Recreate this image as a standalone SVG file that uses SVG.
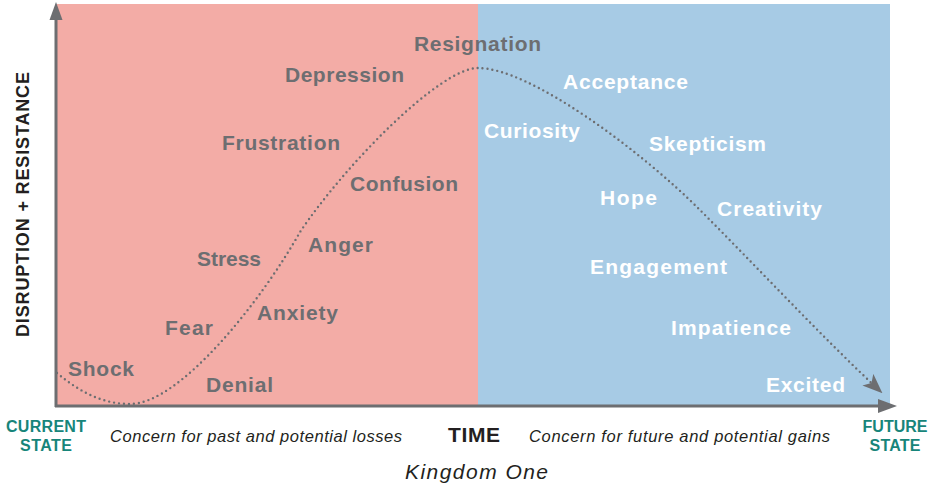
<svg xmlns="http://www.w3.org/2000/svg" width="936" height="486" viewBox="0 0 936 486">
<defs>
<style>
.lbl{font-family:"Liberation Sans",Arial,sans-serif;font-weight:bold;font-size:21px}
.past{fill:#6d6e71}
.fut{fill:#ffffff}
.state{font-family:"Liberation Sans",Arial,sans-serif;font-weight:bold;font-size:16px;fill:#17857a;text-anchor:middle}
.note{font-family:"Liberation Sans",Arial,sans-serif;font-style:italic;font-size:16.5px;fill:#231f20}
.axis{stroke:#6d6e71;stroke-width:3;fill:none}
</style>
<marker id="curveArrow" viewBox="0 0 20 16" refX="18" refY="8" markerWidth="20" markerHeight="16" markerUnits="userSpaceOnUse" orient="auto">
<path d="M0,0 L20,8 L0,16 L5,8 Z" fill="#6d6e71"/>
</marker>
</defs>
<g id="zones">
<rect id="zone-past" x="57" y="4" width="421" height="402" fill="#f3aca6"/>
<rect id="zone-future" x="478" y="4" width="412" height="402" fill="#a7cbe5"/>
</g>
<g id="axes">
<line class="axis" x1="56" y1="407" x2="56" y2="16"/>
<path d="M49.5,20 L56,2 L62.5,20 Z" fill="#6d6e71"/>
<line class="axis" x1="55" y1="406" x2="882" y2="406"/>
<path d="M878,399 L897,406 L878,413 Z" fill="#6d6e71"/>
</g>
<g id="connectors">
<path d="M57,373 C82,394 105,404 130,404 C180,404 262,300 300,232 C345,165 440,68 478,68 C530,68 640,150 700,210 C760,270 820,335 881,392" fill="none" stroke="#6d6e71" stroke-width="2.4" stroke-linecap="round" stroke-dasharray="0 5" marker-end="url(#curveArrow)"/>
</g>
<g id="node-shock"><text class="lbl past" x="68" y="376" textLength="66">Shock</text></g>
<g id="node-denial"><text class="lbl past" x="206" y="392" textLength="67">Denial</text></g>
<g id="node-fear"><text class="lbl past" x="165" y="335" textLength="48">Fear</text></g>
<g id="node-anxiety"><text class="lbl past" x="257" y="320" textLength="81">Anxiety</text></g>
<g id="node-stress"><text class="lbl past" x="197" y="266" textLength="64">Stress</text></g>
<g id="node-anger"><text class="lbl past" x="308" y="252" textLength="65">Anger</text></g>
<g id="node-confusion"><text class="lbl past" x="350" y="191" textLength="108">Confusion</text></g>
<g id="node-frustration"><text class="lbl past" x="222" y="150" textLength="118">Frustration</text></g>
<g id="node-depression"><text class="lbl past" x="285" y="82" textLength="119">Depression</text></g>
<g id="node-resignation"><text class="lbl past" x="414" y="51" textLength="127">Resignation</text></g>
<g id="node-acceptance"><text class="lbl fut" x="563" y="89" textLength="125">Acceptance</text></g>
<g id="node-curiosity"><text class="lbl fut" x="484" y="138" textLength="96">Curiosity</text></g>
<g id="node-skepticism"><text class="lbl fut" x="649" y="151" textLength="117">Skepticism</text></g>
<g id="node-hope"><text class="lbl fut" x="600" y="205" textLength="57">Hope</text></g>
<g id="node-creativity"><text class="lbl fut" x="717" y="216" textLength="105">Creativity</text></g>
<g id="node-engagement"><text class="lbl fut" x="590" y="274" textLength="137">Engagement</text></g>
<g id="node-impatience"><text class="lbl fut" x="671" y="335" textLength="120">Impatience</text></g>
<g id="node-excited"><text class="lbl fut" x="766" y="392" textLength="79">Excited</text></g>
<g id="axis-labels">
<text class="lbl" x="0" y="0" transform="translate(28.5,337) rotate(-90)" style="font-size:18px" fill="#231f20" textLength="265">DISRUPTION + RESISTANCE</text>
<text class="state" x="46" y="432" textLength="80">CURRENT</text>
<text class="state" x="46" y="451" textLength="52">STATE</text>
<text class="state" x="895" y="432" textLength="65">FUTURE</text>
<text class="state" x="895" y="451" textLength="51">STATE</text>
<text class="note" x="110" y="442" textLength="292">Concern for past and potential losses</text>
<text class="lbl" x="448" y="442" fill="#231f20" textLength="52">TIME</text>
<text class="note" x="529" y="442" textLength="301">Concern for future and potential gains</text>
<text class="note" x="405" y="479" style="font-size:21px" textLength="143">Kingdom One</text>
</g>
</svg>
